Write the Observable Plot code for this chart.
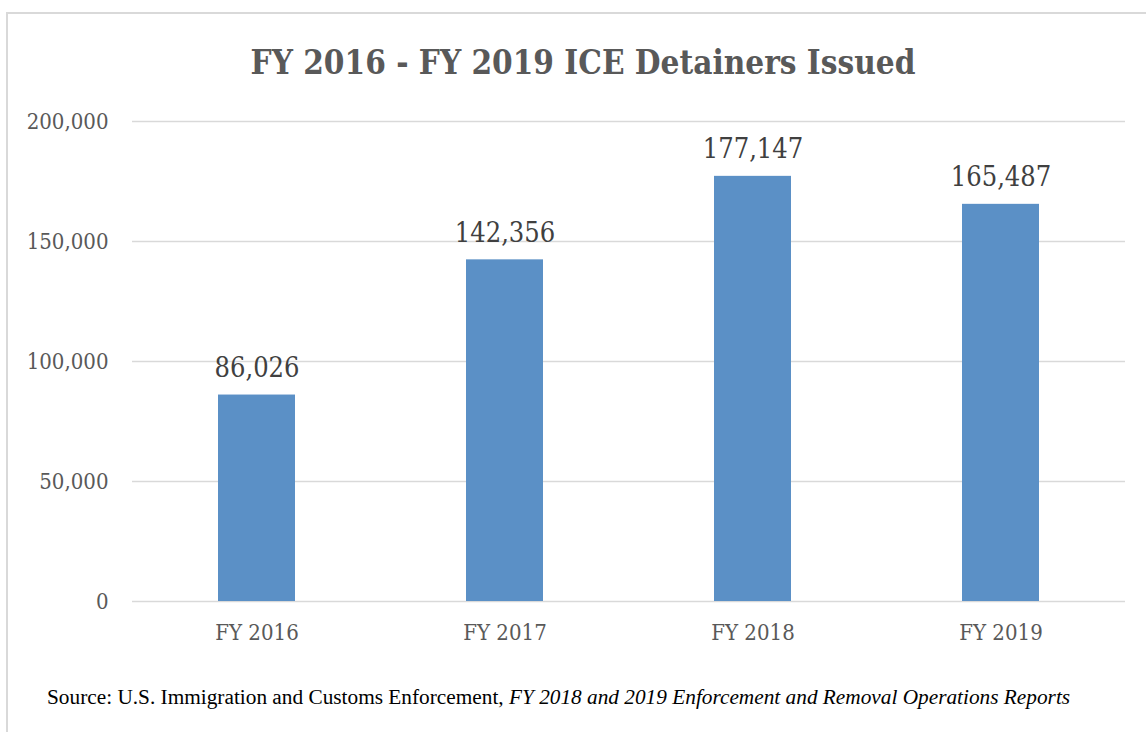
<!DOCTYPE html>
<html>
<head>
<meta charset="utf-8">
<script src="https://cdn.jsdelivr.net/npm/d3@7"></script>
<script src="https://cdn.jsdelivr.net/npm/@observablehq/plot@0.6"></script>
<style>
  html, body { margin: 0; padding: 0; background: #fff; }
  body { width: 1146px; height: 732px; position: relative; overflow: hidden; }
  #frame { position: absolute; left: 6px; top: 12px; width: 1160px; height: 760px; border: 2px solid #d9d9d9; box-sizing: border-box; }
  #title { position: absolute; left: 0; top: 43px; width: 1166px; text-align: center;
    font-family: "DejaVu Serif Condensed", "DejaVu Serif", serif; font-stretch: condensed; font-weight: bold; font-size: 33px; color: #595959; }
  #chart { position: absolute; left: 0; top: 100px; }
  #caption { position: absolute; left: 47px; top: 685px; font-family: "Liberation Serif", "Times New Roman", serif; font-size: 21.3px; color: #000; white-space: nowrap; }
</style>
</head>
<body>
<div id="frame"></div>
<div id="title">FY 2016 - FY 2019 ICE Detainers Issued</div>
<div id="chart"></div>
<div id="caption">Source: U.S. Immigration and Customs Enforcement, <i>FY 2018 and 2019 Enforcement and Removal Operations Reports</i></div>
<script>
const categories = ["FY 2016", "FY 2017", "FY 2018", "FY 2019"];
const values = [86026, 142356, 177147, 165487];
const yTicks = [0, 50000, 100000, 150000, 200000];

const data = categories.map((c, i) => ({category: c, value: values[i]}));
const fmt = d3.format(",");
const font = '"DejaVu Serif Condensed", "DejaVu Serif", serif';

const plot = Plot.plot({
  width: 1146,
  height: 560,
  marginTop: 21,
  marginBottom: 59,
  marginLeft: 132,
  marginRight: 21,
  style: { fontFamily: font, background: "transparent", overflow: "visible" },
  x: { domain: categories, paddingInner: 0.69, paddingOuter: 0.345, label: null },
  y: { domain: [0, 200000], label: null },
  marks: [
    Plot.ruleY(yTicks, { stroke: "#d9d9d9", strokeWidth: 1.5 }),
    Plot.barY(data, { x: "category", y: "value", fill: "#5b90c6" }),
    Plot.text(data, { x: "category", y: "value", text: d => fmt(d.value), lineAnchor: "bottom", dy: -18, fontSize: 27, fill: "#404040" }),
    Plot.axisY({ ticks: yTicks, tickFormat: fmt, tickSize: 0, tickPadding: 24, fontSize: 22, color: "#595959", label: null }),
    Plot.axisX({ tickSize: 0, tickPadding: 23, fontSize: 22, color: "#595959", label: null })
  ]
});
plot.style.fontStretch = "condensed";
document.getElementById("chart").appendChild(plot);
</script>
</body>
</html>
